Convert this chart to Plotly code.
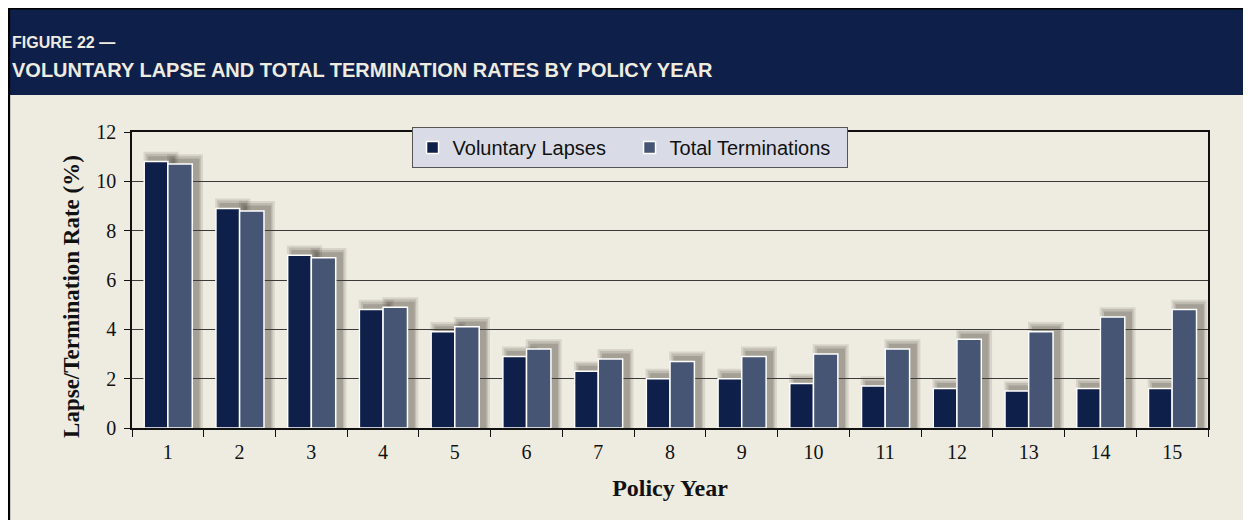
import plotly.graph_objects as go

policy_years = [str(i) for i in range(1, 16)]
voluntary_lapses = [10.8, 8.9, 7.0, 4.8, 3.9, 2.9, 2.3, 2.0, 2.0, 1.8, 1.7, 1.6, 1.5, 1.6, 1.6]
total_terminations = [10.7, 8.8, 6.9, 4.9, 4.1, 3.2, 2.8, 2.7, 2.9, 3.0, 3.2, 3.6, 3.9, 4.5, 4.8]
y_ticks = [0, 2, 4, 6, 8, 10, 12]

series = [
    ("Voluntary Lapses", voluntary_lapses, "#0E1F4A", -0.33, 0.33),
    ("Total Terminations", total_terminations, "#465573", 0.0, 0.34),
]

BG = "#EEEBE0"
NAVY = "#0E1F4A"
SANS = "Liberation Sans Narrow, Arial Narrow, Liberation Sans, Arial, sans-serif"
SERIF = "Liberation Serif, Times New Roman, serif"

fig = go.Figure()

# soft drop shadows behind the bars
for name, vals, color, off, w in series:
    fig.add_trace(go.Bar(
        x=policy_years, y=[v + 0.40 for v in vals], offset=off - 0.01, width=w + 0.16,
        marker=dict(color="rgba(70,65,55,0.13)", line=dict(width=0)),
        showlegend=False, hoverinfo="skip"))
    fig.add_trace(go.Bar(
        x=policy_years, y=[v + 0.32 for v in vals], offset=off + 0.02, width=w + 0.10,
        marker=dict(color="rgba(70,65,55,0.17)", line=dict(width=0)),
        showlegend=False, hoverinfo="skip"))
    fig.add_trace(go.Bar(
        x=policy_years, y=[v + 0.22 for v in vals], offset=off + 0.05, width=w + 0.05,
        marker=dict(color="rgba(70,65,55,0.22)", line=dict(width=0)),
        showlegend=False, hoverinfo="skip"))

for name, vals, color, off, w in series:
    fig.add_trace(go.Bar(
        x=policy_years, y=vals, name=name, offset=off, width=w,
        marker=dict(color=color, line=dict(color="white", width=1.5))))

fig.update_layout(
    width=1243, height=512,
    barmode="overlay",
    paper_bgcolor=BG, plot_bgcolor=BG,
    margin=dict(l=124, r=43, t=124, b=92),
    showlegend=True,
    legend=dict(
        orientation="h", x=0.4624, xanchor="center", y=1.017, yanchor="top",
        bgcolor="#D9DCE6", bordercolor="#555555", borderwidth=1,
        font=dict(family=SANS, size=20, color="#111111"),
        entrywidth=172, itemwidth=30,
    ),
    xaxis=dict(
        type="category", tickson="boundaries", ticks="outside", ticklen=7,
        tickcolor="#111111", showline=True, linecolor="#111111", linewidth=1.5,
        mirror=True, showgrid=False, ticklabelstandoff=5,
        tickfont=dict(family=SERIF, size=20, color="#111111"),
        title=dict(text="<b>Policy Year</b>", font=dict(family=SERIF, size=24, color="#111111"), standoff=17),
    ),
    yaxis=dict(
        range=[0, 12], tickvals=y_ticks, ticks="outside", ticklen=6,
        tickcolor="#111111", showline=True, linecolor="#111111", linewidth=1.5,
        mirror=True, showgrid=True, gridcolor="#3a3a3a", gridwidth=1,
        zeroline=False, ticklabelstandoff=4,
        tickfont=dict(family=SERIF, size=20, color="#111111"),
    ),
    shapes=[
        dict(type="rect", xref="paper", yref="paper", x0=-0.1152, x1=1.05,
             y0=1.125, y1=1.4189, fillcolor=NAVY, line=dict(width=0), layer="below"),
        dict(type="line", xref="paper", yref="paper", x0=-0.1152, x1=1.05,
             y0=1.4172, y1=1.4172, line=dict(color="black", width=2)),
        dict(type="line", xref="paper", yref="paper", x0=-0.1144, x1=-0.1144,
             y0=-0.32, y1=1.4189, line=dict(color="black", width=2.5)),
    ],
    annotations=[
        dict(text="<b>FIGURE 22 —</b>", xref="paper", yref="paper",
             x=-0.1134, y=1.304, xanchor="left", yanchor="middle", showarrow=False,
             font=dict(family=SANS, size=16, color="#EEEBE0")),
        dict(text="<b>VOLUNTARY LAPSE AND TOTAL TERMINATION RATES BY POLICY YEAR</b>",
             xref="paper", yref="paper", x=-0.1134, y=1.209, xanchor="left", yanchor="middle",
             showarrow=False, font=dict(family=SANS, size=20, color="#EEEBE0")),
        dict(text="<b>Lapse/Termination Rate (%)</b>", xref="paper", yref="paper",
             x=-0.0558, y=0.446, xanchor="center", yanchor="middle", textangle=-90,
             showarrow=False, font=dict(family=SERIF, size=23, color="#111111")),
    ],
)

fig.write_html("out.html")
